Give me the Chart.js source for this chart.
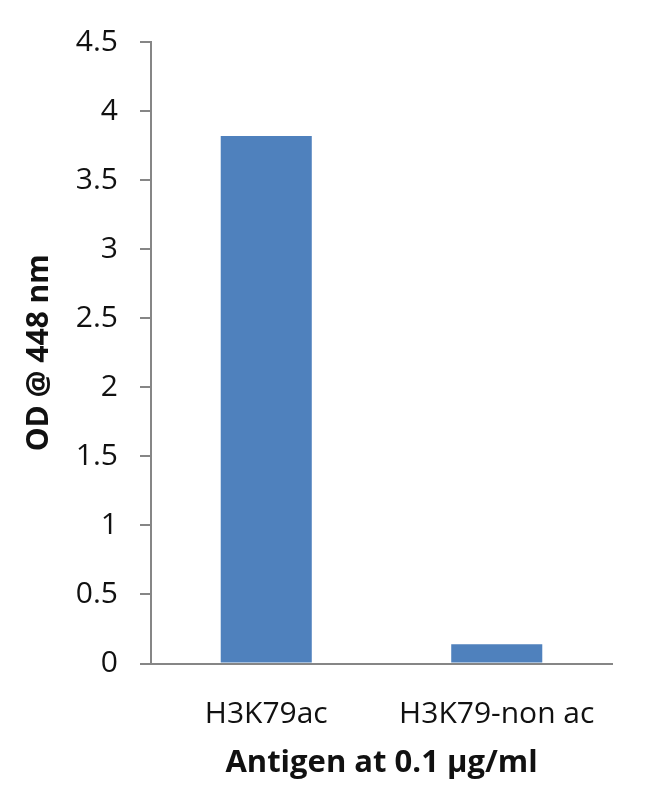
<!DOCTYPE html>
<html>
<head>
<meta charset="utf-8">
<title>OD @ 448 nm</title>
<script src="https://cdn.jsdelivr.net/npm/chart.js@4.4.1/dist/chart.umd.min.js"></script>
<style>
  html, body { margin: 0; padding: 0; background: #fff; }
  #wrap { width: 650px; height: 800px; }
</style>
</head>
<body>
<div id="wrap"><canvas id="odChart" width="650" height="800"></canvas></div>
<script>
  // values
  const antigens = ['H3K79ac', 'H3K79-non ac'];
  const odValues = [3.82, 0.14];
  const yTickLabels = ['0', '0.5', '1', '1.5', '2', '2.5', '3', '3.5', '4', '4.5'];

  const axisGrey = '#868686';
  const fontFamily = '"Open Sans", "Noto Sans", sans-serif';

  const ctx = document.getElementById('odChart').getContext('2d');

  new Chart(ctx, {
    type: 'bar',
    data: {
      labels: antigens,
      datasets: [{
        label: 'OD @ 448 nm',
        data: odValues,
        backgroundColor: '#4F81BD',
        borderWidth: 0,
        categoryPercentage: 1,
        barPercentage: 0.395
      }]
    },
    options: {
      responsive: false,
      animation: false,
      layout: {
        padding: { top: 42, right: 38, bottom: 0, left: 0 }
      },
      plugins: {
        legend: { display: false },
        tooltip: { enabled: false }
      },
      scales: {
        x: {
          grid: { display: false, drawTicks: false },
          border: { display: true, color: axisGrey, width: 2 },
          ticks: {
            color: '#111',
            padding: 33,
            maxRotation: 0,
            font: { family: fontFamily, size: 30 }
          },
          title: {
            display: true,
            text: 'Antigen at 0.1 µg/ml',
            color: '#111',
            padding: { top: 0, bottom: 18 },
            font: { family: fontFamily, size: 31, weight: 'bold' }
          },
          afterFit: (scale) => { scale.height = 136.5; }
        },
        y: {
          min: 0,
          max: 4.5,
          grid: {
            drawOnChartArea: false,
            drawTicks: true,
            tickLength: 11,
            color: axisGrey,
            lineWidth: 2
          },
          border: { display: true, color: axisGrey, width: 2 },
          ticks: {
            stepSize: 0.5,
            color: '#111',
            padding: 22,
            font: { family: fontFamily, size: 30 },
            callback: (value, index) => yTickLabels[index]
          },
          title: {
            display: true,
            text: 'OD @ 448 nm',
            color: '#111',
            padding: { top: 21, bottom: 0 },
            font: { family: fontFamily, size: 30, weight: 'bold' }
          },
          afterFit: (scale) => { scale.width = 151; }
        }
      }
    }
  });
</script>
</body>
</html>
